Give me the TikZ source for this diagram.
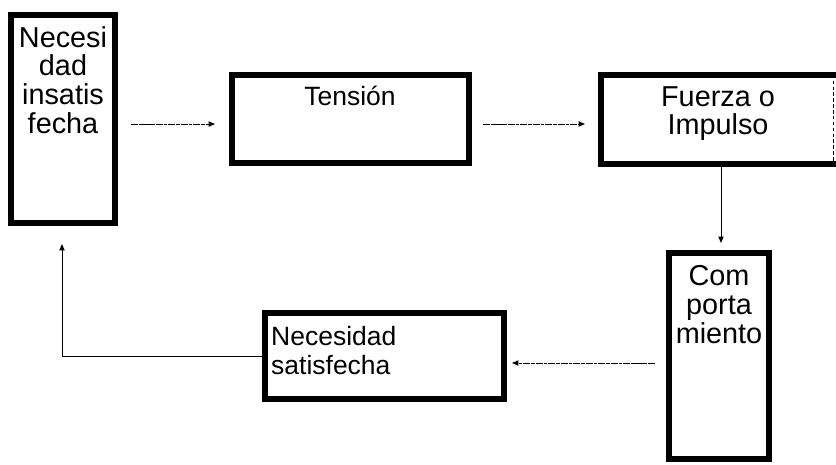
\documentclass[tikz,border=0pt]{standalone}
\usepackage{fontspec}
\setmainfont{Liberation Sans}
\usetikzlibrary{arrows.meta,fit}

\begin{document}
\begin{tikzpicture}[x=0.85pt,y=-0.85pt,
  frame/.style={draw=black, line width=5.1pt, inner sep=0pt, rectangle},
  label text/.style={inner sep=0pt, align=center},
  big text/.style={label text, font=\fontsize{24.5}{24.5}\selectfont},
  small text/.style={label text, font=\fontsize{22.5}{24.5}\selectfont},
  link/.style={line width=0.85pt, -{Triangle[length=5.5pt,width=4.5pt]}},
  roughlink/.style={link, dash pattern=on 6pt off 0.8pt on 3pt off 0.8pt}]
\useasboundingbox (0,0) rectangle (836,464);

% corner points of the box outlines (centre line of the thick border)
\coordinate (n1a) at (11,15);   \coordinate (n1b) at (115,223);
\coordinate (t1a) at (232,75);  \coordinate (t1b) at (469,163);
\coordinate (f1a) at (601,75);  \coordinate (f1b) at (833,164);
\coordinate (c1a) at (669,253); \coordinate (c1b) at (769,459);
\coordinate (s1a) at (265,313); \coordinate (s1b) at (504,399);

% boxes
\node[frame, fit=(n1a)(n1b)] (insat) {};
\node[frame, fit=(t1a)(t1b)] (tension) {};
\node[inner sep=0pt, fit=(f1a)(f1b)] (fuerza) {};
\node[frame, fit=(c1a)(c1b)] (comport) {};
\node[frame, fit=(s1a)(s1b)] (satisf) {};

% the right side of the third box runs into the edge: thick on three sides only
\draw[line width=5.1pt] (fuerza.north east -| 836,0) -- (fuerza.north west)
  -- (fuerza.south west) -- (fuerza.south east -| 836,0);
\draw[line width=0.6pt, dash pattern=on 3pt off 2pt] (fuerza.north east) -- (fuerza.south east);

% texts
\node[big text, anchor=north] (insatT) at (63,26) {Necesi\\dad\\insatis\\fecha};
\node[small text, anchor=north] (tensionT) at (350,86) {Tensión};
\node[big text, anchor=north] (fuerzaT) at (718,86) {Fuerza o\\Impulso};
\node[big text, anchor=north] (comportT) at (719,265) {Com\\porta\\miento};
\node[small text, anchor=north west, align=left] (satisfT) at (271,326) {Necesidad\\satisfecha};

% connectors
\coordinate (a1s) at (131,124); \coordinate (a1e) at (215,124);
\coordinate (a2s) at (483,124); \coordinate (a2e) at (585,124);
\coordinate (a4s) at (655,363); \coordinate (a4e) at (512,363);
\coordinate (a5c) at (62,356);  \coordinate (a5e) at (62,244);

\draw[roughlink] (a1s) -- (a1e);
\draw[roughlink] (a2s) -- (a2e);
\draw[link] (fuerza.south -| 721,0) -- (721,243);
\draw[roughlink] (a4s) -- (a4e);
\draw[link] (satisf.west) -- (a5c) -- (a5e);
\end{tikzpicture}
\end{document}
